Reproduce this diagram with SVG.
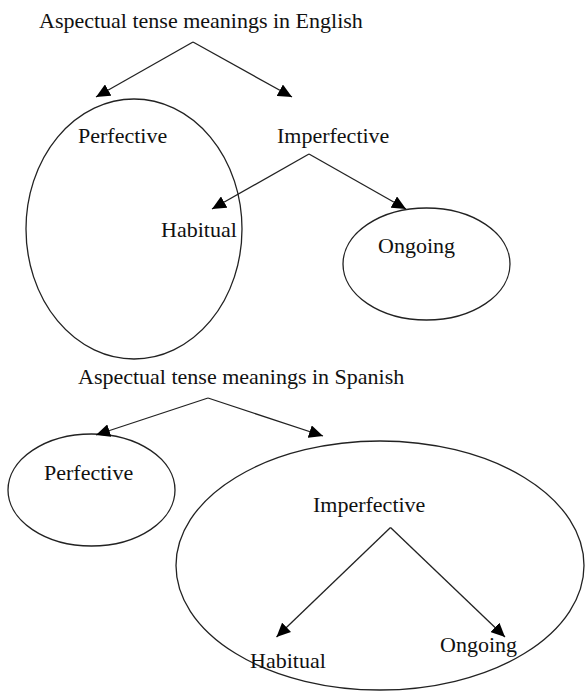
<svg xmlns="http://www.w3.org/2000/svg" width="586" height="691" viewBox="0 0 586 691">
<style>
text{font-family:"Liberation Serif","Times New Roman",serif;font-size:22px;fill:#111}
.sh{fill:none;stroke:#222;stroke-width:1.3}
.ln{fill:none;stroke:#222;stroke-width:1.3;marker-end:url(#ah)}
</style>
<defs>
<marker id="ah" markerUnits="userSpaceOnUse" markerWidth="15" markerHeight="13" refX="14" refY="6.5" orient="auto" viewBox="0 0 15 13">
<path d="M0,0 L14,6.5 L0,13 z" fill="#000"/>
</marker>
</defs>
<rect width="586" height="691" fill="#fff"/>
<g id="english">
<g id="en-title"><text x="39" y="28">Aspectual tense meanings in English</text></g>
<g id="en-perfective"><ellipse class="sh" cx="134" cy="229" rx="108" ry="130"/><text x="78" y="143">Perfective</text></g>
<g id="en-imperfective"><text x="277" y="143">Imperfective</text></g>
<g id="en-habitual"><text x="161" y="237">Habitual</text></g>
<g id="en-ongoing"><ellipse class="sh" cx="426.5" cy="264" rx="83.5" ry="56"/><text x="378" y="253">Ongoing</text></g>
</g>
<g id="spanish">
<g id="es-title"><text x="78" y="384">Aspectual tense meanings in Spanish</text></g>
<g id="es-perfective"><ellipse class="sh" cx="91.5" cy="490" rx="83.5" ry="56"/><text x="44" y="480">Perfective</text></g>
<g id="es-imperfective"><ellipse class="sh" cx="380" cy="565.5" rx="204" ry="124.5"/><text x="313" y="512">Imperfective</text></g>
<g id="es-habitual"><text x="250" y="668">Habitual</text></g>
<g id="es-ongoing"><text x="440" y="652">Ongoing</text></g>
</g>
<g id="connectors">
<path class="ln" d="M193,42 L96,97"/>
<path class="ln" d="M193,42 L292,97"/>
<path class="ln" d="M309,154 L212,209"/>
<path class="ln" d="M309,154 L406,209"/>
<path class="ln" d="M208,398 L96,435"/>
<path class="ln" d="M208,398 L323,436"/>
<path class="ln" d="M390.5,527.5 L276.5,637"/>
<path class="ln" d="M390.5,527.5 L505,637"/>
</g>
</svg>
